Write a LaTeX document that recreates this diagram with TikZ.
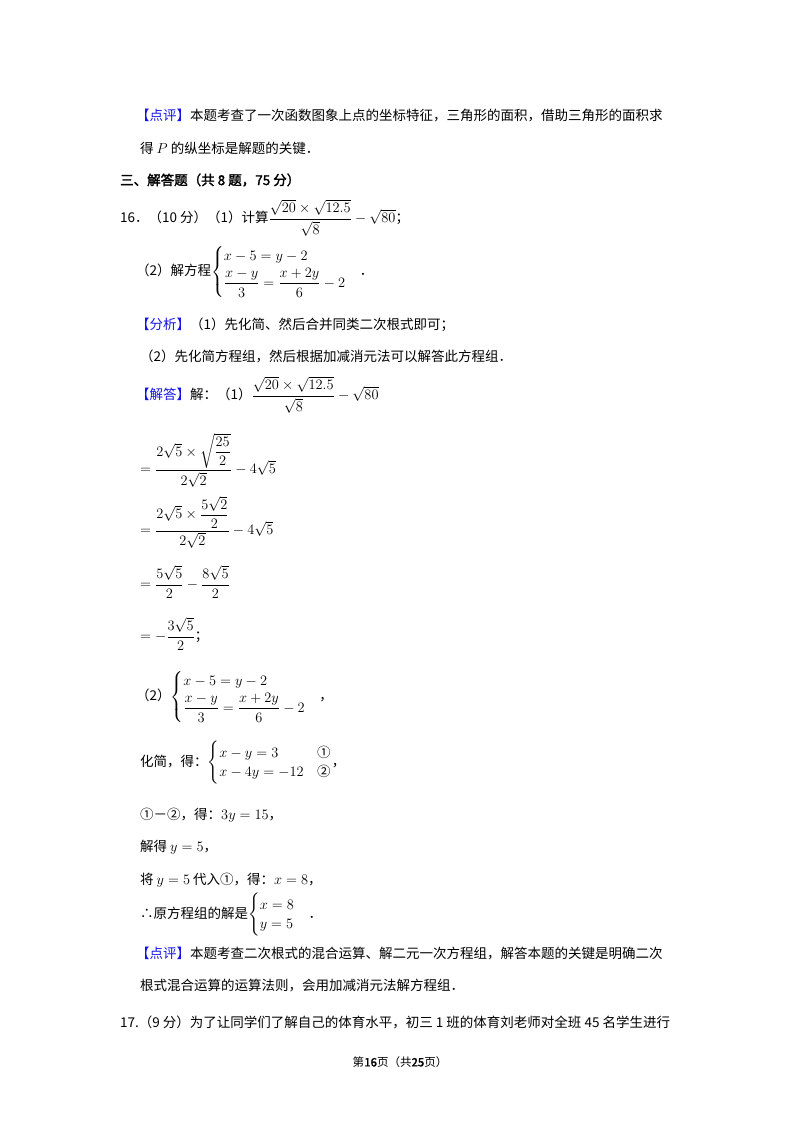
\documentclass[tikz,border=0pt]{standalone}
\usepackage{amsmath}
\usepackage{fontspec}
\setmainfont{Noto Sans CJK SC}
\newfontfamily\cjkbold[FakeBold=2]{Noto Sans CJK SC}
\definecolor{tagblue}{RGB}{20,20,230}
\newcommand{\tagp}[1]{\textcolor{tagblue}{【#1】}}
\begin{document}
\begin{tikzpicture}[x=1pt,y=1pt,
  txt/.style={anchor=west,inner sep=0pt,font=\fontsize{13.5}{16}\selectfont}]
\useasboundingbox[fill=white] (0,0) rectangle (800,-1132);
\node[txt] (l1) at (136,-116) {\tagp{点评}本题考查了一次函数图象上点的坐标特征，三角形的面积，借助三角形的面积求};
\node[txt] (l2) at (140,-148) {得 $P$ 的纵坐标是解题的关键．};
\node[txt,font=\fontsize{13.5}{16}\selectfont\cjkbold] (l3) at (120,-180) {三、解答题（共 8 题，75 分）};
\node[txt] (l4) at (120,-218) {16．（10 分）（1）计算$\dfrac{\sqrt{20}\times\sqrt{12.5}}{\sqrt{8}}-\sqrt{80}$；};
\node[txt] (l5) at (136,-272) {（2）解方程$\begin{cases}x-5=y-2\\[2pt] \dfrac{x-y}{3}=\dfrac{x+2y}{6}-2\end{cases}$．};
\node[txt] (l6) at (136,-325) {\tagp{分析}（1）先化简、然后合并同类二次根式即可；};
\node[txt] (l7) at (140,-356) {（2）先化简方程组，然后根据加减消元法可以解答此方程组．};
\node[txt] (l8) at (136,-395) {\tagp{解答}解：（1）$\dfrac{\sqrt{20}\times\sqrt{12.5}}{\sqrt{8}}-\sqrt{80}$};
\node[txt] (l9) at (140,-460) {$=\dfrac{2\sqrt{5}\times\sqrt{\dfrac{25}{2}}}{2\sqrt{2}}-4\sqrt{5}$};
\node[txt] (l10) at (140,-522) {$=\dfrac{2\sqrt{5}\times\dfrac{5\sqrt{2}}{2}}{2\sqrt{2}}-4\sqrt{5}$};
\node[txt] (l11) at (140,-582) {$=\dfrac{5\sqrt{5}}{2}-\dfrac{8\sqrt{5}}{2}$};
\node[txt] (l12) at (140,-634) {$=-\dfrac{3\sqrt{5}}{2}$；};
\node[txt] (l13) at (136,-697) {（2）$\begin{cases}x-5=y-2\\[2pt] \dfrac{x-y}{3}=\dfrac{x+2y}{6}-2\end{cases}$，};
\node[txt] (l14) at (140,-763) {化简，得：$\begin{cases}x-y=3 & \text{①}\\ x-4y=-12 & \text{②}\end{cases}$，};
\node[txt] (l15) at (140,-815) {①－②，得：$3y=15$，};
\node[txt] (l16) at (140,-847) {解得 $y=5$，};
\node[txt] (l17) at (140,-880) {将 $y=5$ 代入①，得：$x=8$，};
\node[txt] (l18) at (140,-915) {∴原方程组的解是$\begin{cases}x=8\\ y=5\end{cases}$．};
\node[txt] (l19) at (136,-953) {\tagp{点评}本题考查二次根式的混合运算、解二元一次方程组，解答本题的关键是明确二次};
\node[txt] (l20) at (140,-985) {根式混合运算的运算法则，会用加减消元法解方程组．};
\node[txt] (l21) at (120,-1022) {17.（9 分）为了让同学们了解自己的体育水平，初三 1 班的体育刘老师对全班 45 名学生进行};
\node[inner sep=0pt,font=\fontsize{11.5}{14}\selectfont] (ft) at (400,-1062) {第{\cjkbold 16}页（共{\cjkbold 25}页）};
\end{tikzpicture}
\end{document}
